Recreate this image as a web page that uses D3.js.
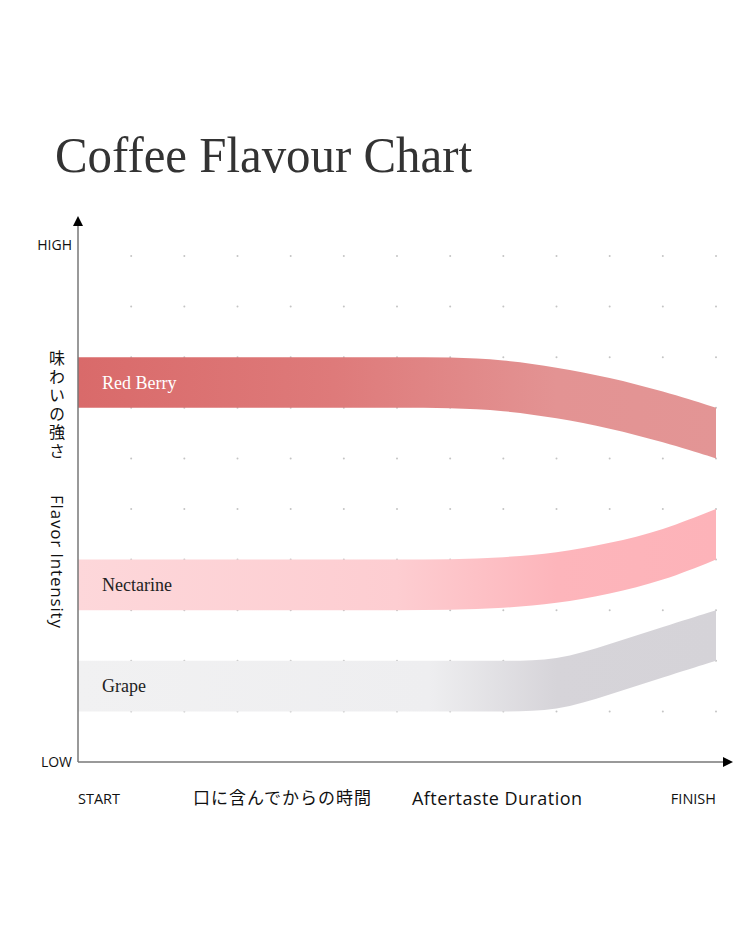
<!DOCTYPE html>
<html>
<head>
<meta charset="utf-8">
<script src="https://cdn.jsdelivr.net/npm/d3@7"></script>
<style>
  body { margin: 0; background: #fff; }
</style>
</head>
<body>
<div id="chart"></div>
<script>
// time steps along the aftertaste axis (grid units)
var timeSteps = d3.range(0, 13);

// band names and centre intensities at each time step
var flavours = ["Red Berry", "Nectarine", "Grape"];
var redBerry  = [7.5, 7.5, 7.5, 7.5, 7.5, 7.5, 7.5, 7.5, 7.45, 7.3, 7.1, 6.83, 6.5];
var nectarine = [3.5, 3.5, 3.5, 3.5, 3.5, 3.5, 3.5, 3.5, 3.54, 3.63, 3.82, 4.08, 4.5];
var grape     = [1.5, 1.5, 1.5, 1.5, 1.5, 1.5, 1.5, 1.5, 1.5, 1.5, 1.83, 2.17, 2.5];

// axis texts
var yEndLabels = ["HIGH", "LOW"];
var xEndLabels = ["START", "FINISH"];

var width = 750, height = 938;

var svg = d3.select("#chart")
  .append("svg")
    .attr("width", width)
    .attr("height", height);

var x = d3.scaleLinear()
  .domain([0, 12])
  .range([78, 716]);

var y = d3.scaleLinear()
  .domain([0, 10])
  .range([762, 256]);

// title
svg.append("text")
  .attr("x", 55)
  .attr("y", 172)
  .attr("textLength", 417)
  .attr("lengthAdjust", "spacingAndGlyphs")
  .style("font-family", "'Liberation Serif', 'DejaVu Serif', serif")
  .style("font-size", "50px")
  .style("fill", "#333")
  .text("Coffee Flavour Chart");

// dotted grid
var dots = [];
d3.range(1, 13).forEach(function (i) {
  d3.range(1, 11).forEach(function (j) { dots.push([i, j]); });
});
svg.append("g")
  .selectAll("circle")
  .data(dots)
  .enter()
  .append("circle")
    .attr("cx", function (d) { return x(d[0]); })
    .attr("cy", function (d) { return y(d[1]); })
    .attr("r", 1)
    .style("fill", "#c4c4c4");

// gradients for the bands
var defs = svg.append("defs");
var gradStops = [
  [[0, "#d96a6a"], [0.4, "#de7a7a"], [0.75, "#e39393"], [1, "#e39595"]],
  [[0, "#fdd7da"], [0.5, "#fdcdd1"], [0.75, "#fdb5bb"], [1, "#fdb3b9"]],
  [[0, "#f1f1f2"], [0.55, "#eeeef0"], [0.75, "#d6d4d9"], [1, "#d5d3d8"]]
];
gradStops.forEach(function (stops, k) {
  var g = defs.append("linearGradient")
    .attr("id", "grad" + k)
    .attr("gradientUnits", "userSpaceOnUse")
    .attr("x1", x(0)).attr("x2", x(12))
    .attr("y1", 0).attr("y2", 0);
  stops.forEach(function (s) {
    g.append("stop").attr("offset", s[0]).attr("stop-color", s[1]);
  });
});

// bands
var series = [redBerry, nectarine, grape];
var area = d3.area()
  .x(function (d, i) { return x(timeSteps[i]); })
  .y0(function (d) { return y(d - 0.5); })
  .y1(function (d) { return y(d + 0.5); })
  .curve(d3.curveBasis);

svg.append("g")
  .selectAll("path")
  .data(series)
  .enter()
  .append("path")
    .attr("d", area)
    .style("fill", function (d, k) { return "url(#grad" + k + ")"; });

// band labels
var labelColors = ["#fff", "#222", "#222"];
svg.append("g")
  .selectAll("text")
  .data(flavours)
  .enter()
  .append("text")
    .attr("x", 102)
    .attr("y", function (d, k) { return y(series[k][0]) + 6; })
    .style("font-family", "'Liberation Serif', 'DejaVu Serif', serif")
    .style("font-size", "18px")
    .style("fill", function (d, k) { return labelColors[k]; })
    .text(function (d) { return d; });

// axes
svg.append("line")
  .attr("x1", x(0)).attr("y1", y(0))
  .attr("x2", x(0)).attr("y2", 225)
  .style("stroke", "#777")
  .style("stroke-width", 1.5);
svg.append("path")
  .attr("d", "M" + (x(0) - 5) + ",226 L" + x(0) + ",216 L" + (x(0) + 5) + ",226 Z")
  .style("fill", "#000");

svg.append("line")
  .attr("x1", x(0)).attr("y1", y(0))
  .attr("x2", 724).attr("y2", y(0))
  .style("stroke", "#777")
  .style("stroke-width", 1.5);
svg.append("path")
  .attr("d", "M723," + (y(0) - 5) + " L733," + y(0) + " L723," + (y(0) + 5) + " Z")
  .style("fill", "#000");

var sans = "'Open Sans', 'Noto Sans', sans-serif";
var cjk = "'Noto Sans CJK JP', sans-serif";

// HIGH / LOW
svg.append("text")
  .attr("x", 72).attr("y", 250)
  .attr("text-anchor", "end")
  .style("font-family", sans).style("font-size", "14px").style("fill", "#111")
  .text(yEndLabels[0]);
svg.append("text")
  .attr("x", 72).attr("y", 767)
  .attr("text-anchor", "end")
  .style("font-family", sans).style("font-size", "14px").style("fill", "#111")
  .text(yEndLabels[1]);

// START / FINISH
svg.append("text")
  .attr("x", 78).attr("y", 804)
  .style("font-family", sans).style("font-size", "14.5px").style("fill", "#111")
  .text(xEndLabels[0]);
svg.append("text")
  .attr("x", 716).attr("y", 804)
  .attr("text-anchor", "end")
  .style("font-family", sans).style("font-size", "14.5px").style("fill", "#111")
  .text(xEndLabels[1]);

// x axis titles
svg.append("text")
  .attr("x", 193).attr("y", 804)
  .attr("textLength", 178)
  .style("font-family", cjk).style("font-size", "17px").style("fill", "#111")
  .text("口に含んでからの時間");
svg.append("text")
  .attr("x", 412).attr("y", 805)
  .attr("textLength", 170)
  .style("font-family", sans).style("font-size", "18px").style("fill", "#111")
  .text("Aftertaste Duration");

// y axis titles: vertical japanese, then rotated english
svg.append("text")
  .attr("x", 57)
  .attr("y", 350)
  .style("writing-mode", "vertical-rl")
  .style("text-orientation", "upright")
  .style("letter-spacing", "2.5px")
  .style("font-family", cjk).style("font-size", "16px").style("fill", "#111")
  .text("味わいの強さ");

svg.append("text")
  .attr("transform", "translate(51,495) rotate(90)")
  .attr("textLength", 133)
  .style("font-family", sans).style("font-size", "17px").style("fill", "#111")
  .text("Flavor Intensity");
</script>
</body>
</html>
